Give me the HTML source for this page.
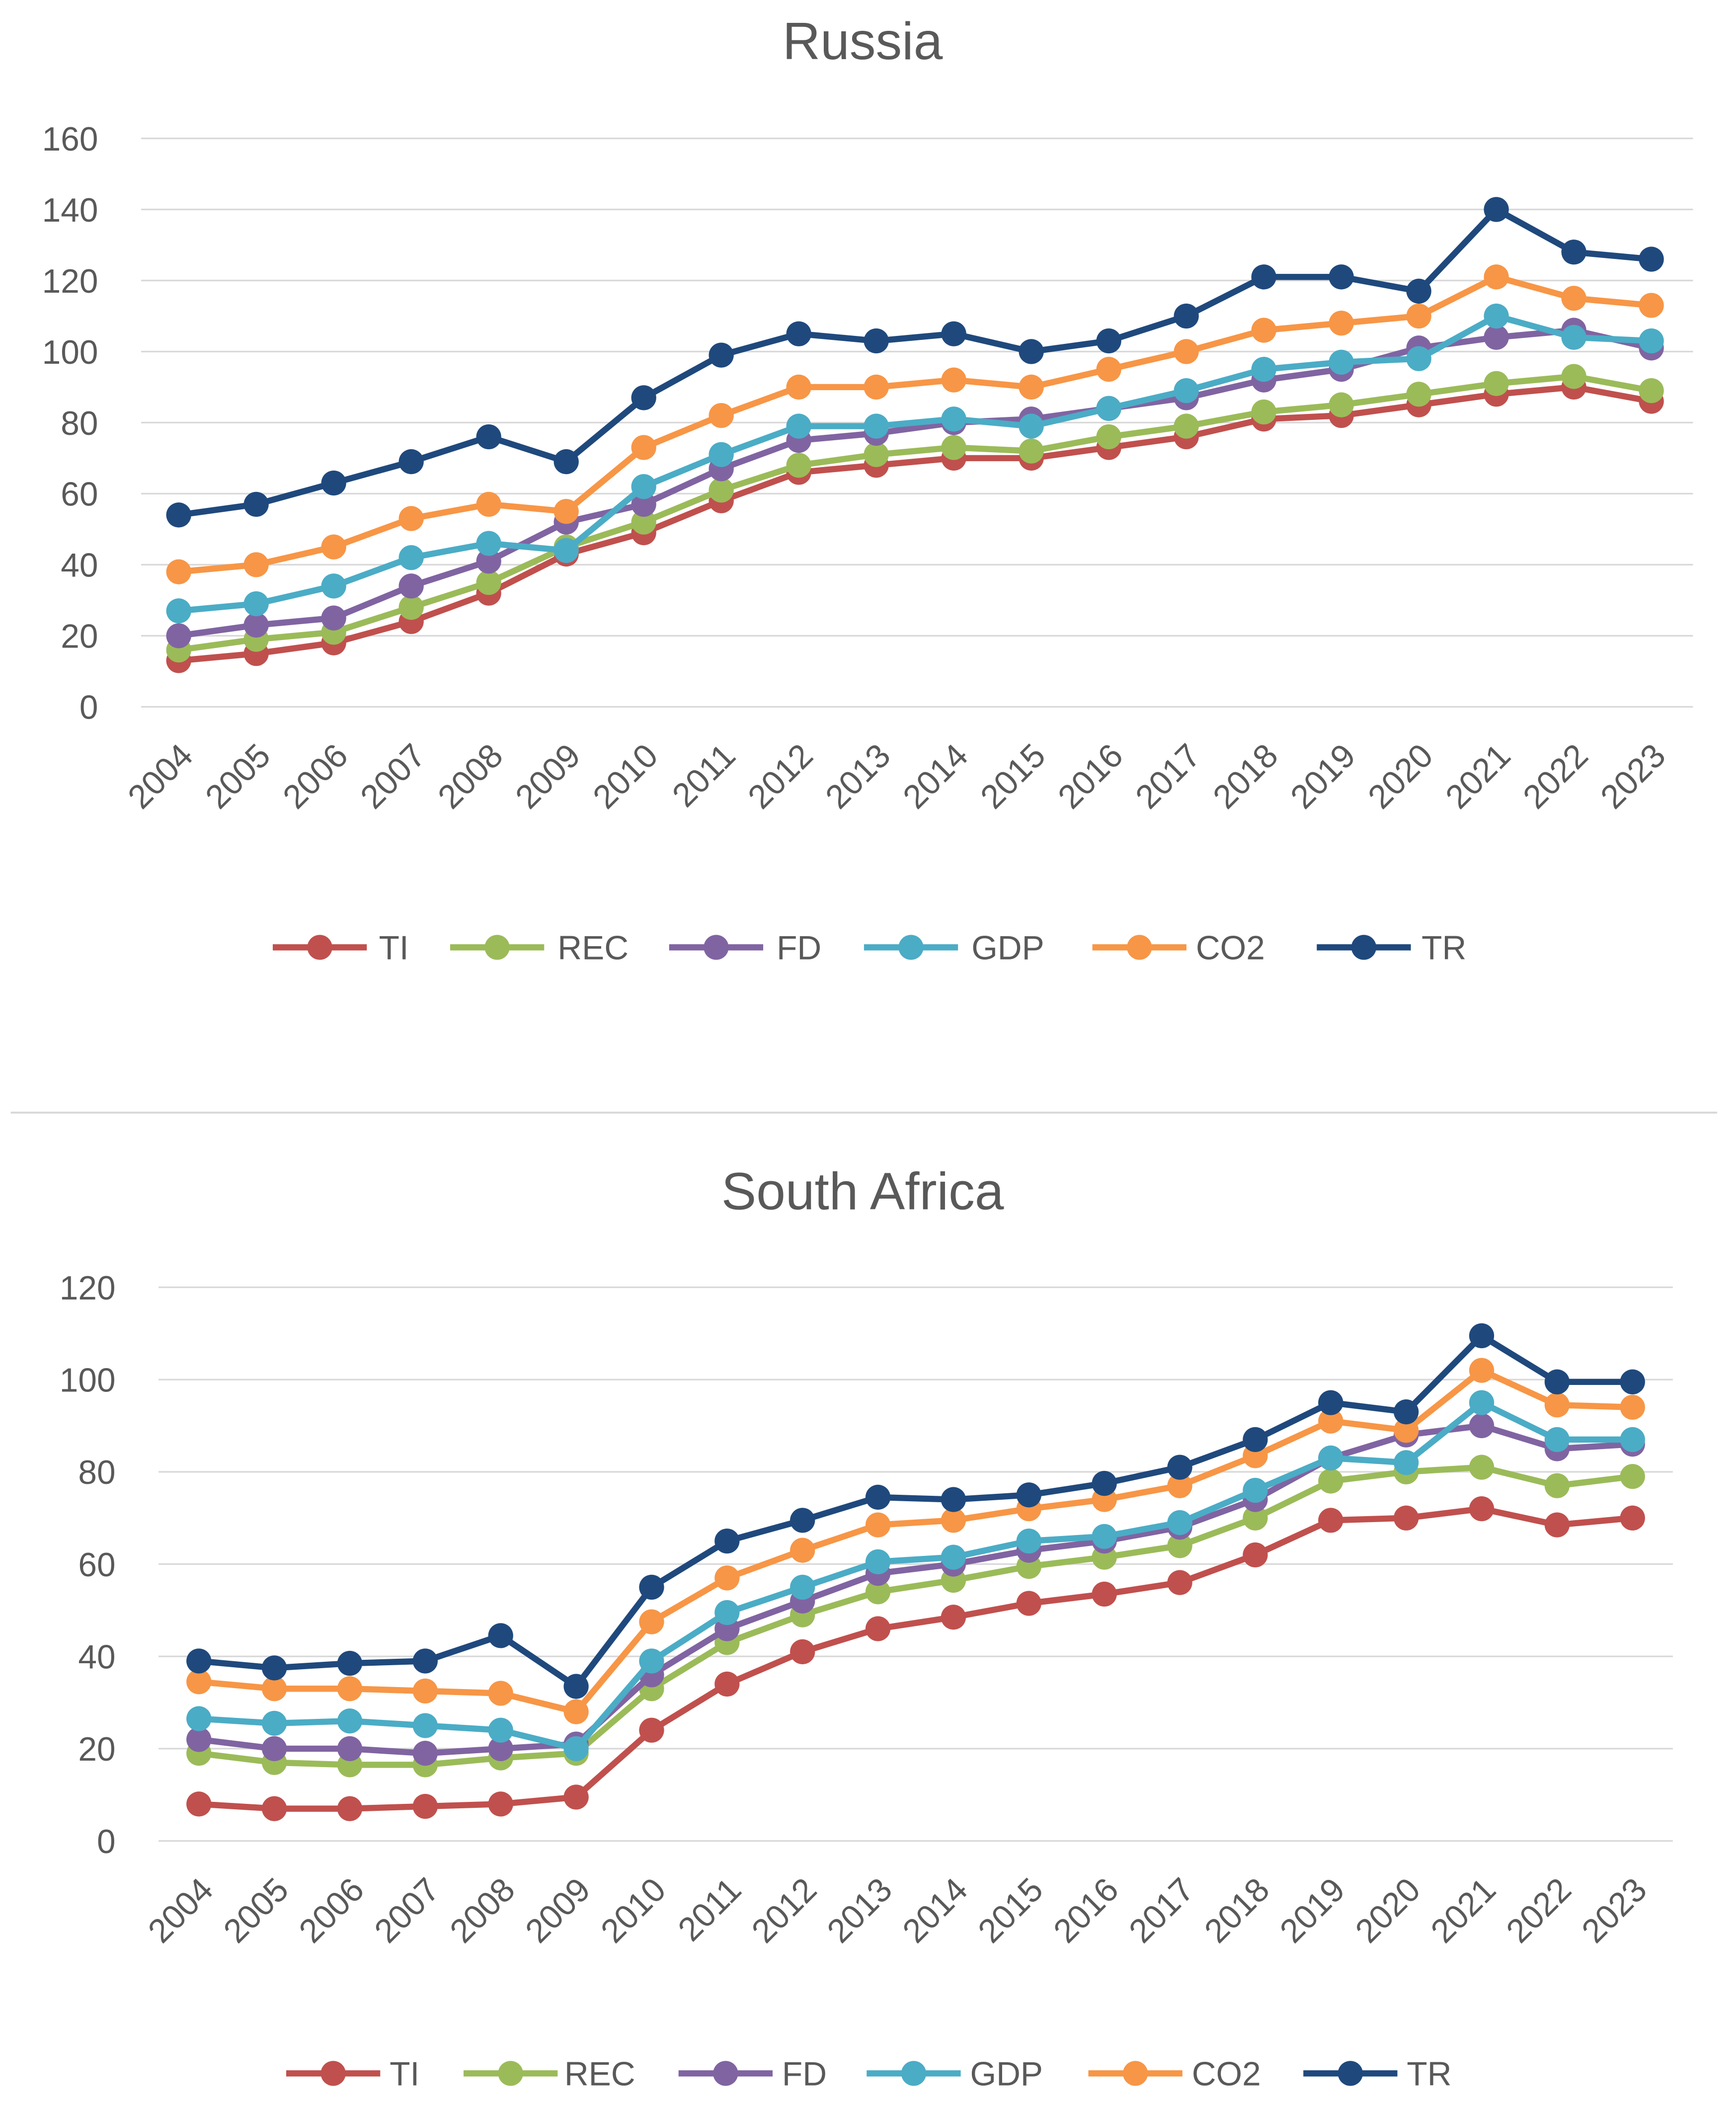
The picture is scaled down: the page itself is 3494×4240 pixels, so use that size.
<!DOCTYPE html>
<html><head><meta charset="utf-8"><style>
html,body{margin:0;padding:0;background:#fff;}
svg{display:block;font-family:"Liberation Sans",sans-serif;}
</style></head><body>
<svg id="root" width="3494" height="4240" viewBox="0 0 1292 1568" preserveAspectRatio="none" xmlns="http://www.w3.org/2000/svg">
<rect width="1292" height="1568" fill="#fff"/>
<line x1="8" y1="828" x2="1278" y2="828" stroke="#d9d9d9" stroke-width="1.5"/>
</svg>
<script>
const years = ["2004","2005","2006","2007","2008","2009","2010","2011","2012","2013","2014","2015","2016","2017","2018","2019","2020","2021","2022","2023"];
const seriesNames = ["TI","REC","FD","GDP","CO2","TR"];
const colors = ["#C0504D","#9BBB59","#8064A2","#4BACC6","#F79646","#1F497D"];
const ruTI  = [13,15,18,24,32,43,49,58,66,68,70,70,73,76,81,82,85,88,90,86];
const ruREC = [16,19,21,28,35,45,52,61,68,71,73,72,76,79,83,85,88,91,93,89];
const ruFD  = [20,23,25,34,41,52,57,67,75,77,80,81,84,87,92,95,101,104,106,101];
const ruGDP = [27,29,34,42,46,44,62,71,79,79,81,79,84,89,95,97,98,110,104,103];
const ruCO2 = [38,40,45,53,57,55,73,82,90,90,92,90,95,100,106,108,110,121,115,113];
const ruTR  = [54,57,63,69,76,69,87,99,105,103,105,100,103,110,121,121,117,140,128,126];
const saTI  = [8,7,7,7.5,8,9.5,24,34,41,46,48.5,51.5,53.5,56,62,69.5,70,72,68.5,70];
const saREC = [19,17,16.5,16.5,18,19,33,43,49,54,56.5,59.5,61.5,64,70,78,80,81,77,79];
const saFD  = [22,20,20,19,20,21,36,46,52,58,60,63,65,68,74,83,88,90,85,86];
const saGDP = [26.5,25.5,26,25,24,20,39,49.5,55,60.5,61.5,65,66,69,76,83,82,95,87,87];
const saCO2 = [34.5,33,33,32.5,32,28,47.5,57,63,68.5,69.5,72,74,77,83.5,91,89,102,94.5,94];
const saTR  = [39,37.5,38.5,39,44.5,33.5,55,65,69.5,74.5,74,75,77.5,81,87,95,93,109.5,99.5,99.5];
const ruTicks = [0,20,40,60,80,100,120,140,160];
const saTicks = [0,20,40,60,80,100,120];

const NS="http://www.w3.org/2000/svg";
const root=document.getElementById('root');
function mk(tag,attrs,parent){const e=document.createElementNS(NS,tag);for(const k in attrs)e.setAttribute(k,attrs[k]);(parent||root).appendChild(e);return e;}

function chart(cfg){
  const g=mk('g',{});
  
  
  const xs=i=>cfg.x0+(cfg.x1-cfg.x0)*i/(years.length-1);
  const ys=v=>cfg.yb-(cfg.yb-cfg.yt)*v/cfg.ymax;
  const t=mk('text',{x:642,y:cfg.titleY,'text-anchor':'middle','font-size':39,fill:'#595959'},g);
  t.textContent=cfg.title;
  
  
  cfg.ticks.forEach(v=>{
    const l=mk('line',{x1:cfg.gx0,x2:cfg.gx1,y1:ys(v),y2:ys(v),stroke:'#d9d9d9','stroke-width':1.2},g);
    
    
    const tx=mk('text',{x:cfg.gx0-32,y:ys(v)+9,'text-anchor':'end','font-size':25,fill:'#595959'},g);
    tx.textContent=v;
    
    
  });
  years.forEach((y,i)=>{
    const x=xs(i)+12, yy=cfg.yb+38;
    const tx=mk('text',{x:x,y:yy,'text-anchor':'end','font-size':25,fill:'#595959',transform:`rotate(-45 ${x} ${yy})`},g);
    tx.textContent=y;
    
    
  });
  cfg.data.forEach((arr,s)=>{
    const sg=mk('g',{},g);
    
    
    mk('polyline',{points:arr.map((v,i)=>xs(i)+','+ys(v)).join(' '),fill:'none',stroke:colors[s],'stroke-width':4.6,'stroke-linejoin':'round'},sg);
    arr.forEach((v,i)=>{
      const c=mk('circle',{cx:xs(i),cy:ys(v),r:9.3,fill:colors[s]},sg);
      
      
    });
  });
  cfg.legend.forEach((p,s)=>{
    const lg=mk('g',{},g);
    
    
    mk('line',{x1:p[0]-35,x2:p[0]+35,y1:cfg.ly,y2:cfg.ly,stroke:colors[s],'stroke-width':4.6},lg);
    mk('circle',{cx:p[0],cy:cfg.ly,r:9.3,fill:colors[s]},lg);
    const tx=mk('text',{x:p[1],y:cfg.ly+9,'font-size':25,fill:'#595959'},lg);
    tx.textContent=seriesNames[s];
  });
}
chart({name:'russia-chart',title:'Russia',titleY:44,x0:133,x1:1229,yt:103,yb:526,ymax:160,gx0:105,gx1:1260,ticks:ruTicks,
  data:[ruTI,ruREC,ruFD,ruGDP,ruCO2,ruTR],ly:705,
  legend:[[238,282],[370,415],[533,578],[678,723],[848,890],[1015,1058]]});
chart({name:'south-africa-chart',title:'South Africa',titleY:900,x0:148,x1:1215,yt:958,yb:1370,ymax:120,gx0:118,gx1:1245,ticks:saTicks,
  data:[saTI,saREC,saFD,saGDP,saCO2,saTR],ly:1543,
  legend:[[248,290],[380,420],[540,582],[680,722],[845,887],[1005,1047]]});
</script>
</body></html>
